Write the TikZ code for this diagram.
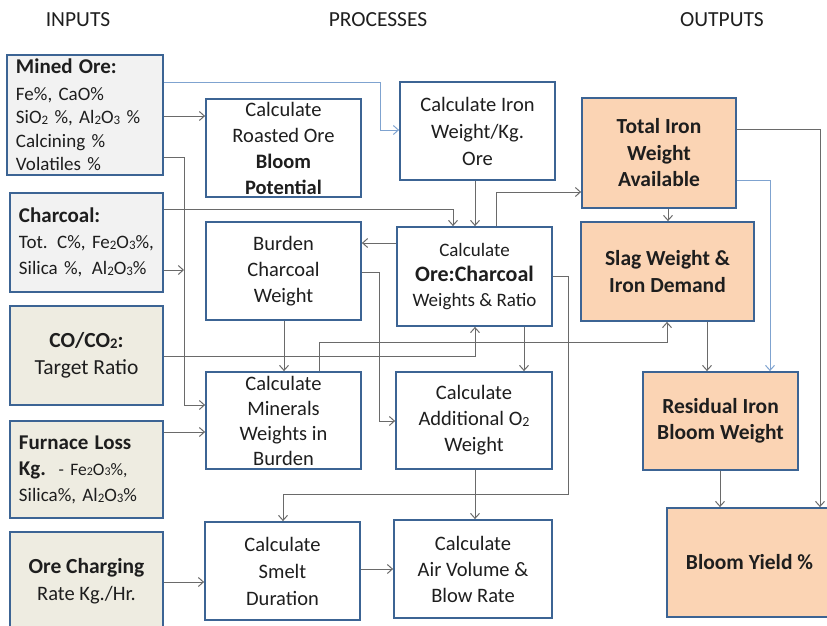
\documentclass[tikz,border=0pt]{standalone}
\usepackage{fontspec}
\setmainfont{Carlito}
\usetikzlibrary{arrows.meta}
\definecolor{bord}{HTML}{3C6494}
\definecolor{grayfill}{HTML}{F2F2F2}
\definecolor{tanfill}{HTML}{EEECE1}
\definecolor{peach}{HTML}{FBD4B4}
\definecolor{wirec}{HTML}{6A6A6A}
\definecolor{bwirec}{HTML}{7FA3D0}
\definecolor{txt}{HTML}{1E1E1E}
\newcommand{\sbs}[1]{\raisebox{-0.1ex}{\scalebox{0.68}{#1}}}
\tikzset{
  sz/.style n args={2}{minimum width=#1, minimum height=#2},
  box/.style={draw=bord, line width=1.8pt, inner sep=0pt, text=txt},
  procbox/.style={box, fill=white, align=center, font=\fontsize{20.5}{26}\selectfont},
  outbox/.style={box, fill=peach, align=center, font=\fontsize{21.5}{26.5}\selectfont\bfseries},
  inbox/.style={box, fill=grayfill, align=left, inner xsep=9pt, font=\fontsize{19}{23.5}\selectfont},
  tanbox/.style={box, fill=tanfill, align=center, font=\fontsize{21.5}{27}\selectfont},
  tanleft/.style={box, fill=tanfill, align=left, inner xsep=9pt, font=\fontsize{19}{26}\selectfont},
  hdr/.style={font=\fontsize{21.5}{24}\selectfont, text=txt, inner sep=0pt},
  wire/.style={draw=wirec, line width=1pt, -{Straight Barb[length=5pt,width=9pt]}},
  bwire/.style={draw=bwirec, line width=1pt, -{Straight Barb[length=5pt,width=9pt]}},
}
\newcommand{\hd}[1]{{\fontsize{21}{24}\selectfont\bfseries #1}}
\begin{document}
\begin{tikzpicture}[x=1pt,y=-1pt]
\useasboundingbox (0,0) rectangle (827,626);
% headers
\node[hdr] (hin) at (78,20) {INPUTS};
\node[hdr] (hproc) at (378,20) {PROCESSES};
\node[hdr] (hout) at (722,20) {OUTPUTS};
% inputs
\node[inbox, sz={156}{120}, text width=138] (ore) at (85,115)
  {\hd{Mined Ore:}\\[3pt] Fe\%, CaO\%\\ SiO\sbs{2} \%, Al\sbs{2}O\sbs{3} \%\\ Calcining \%\\ Volatiles \%};
\node[inbox, sz={153}{99}, text width=135, font=\fontsize{19}{26}\selectfont] (charc) at (86.5,242.5)
  {\hd{Charcoal:}\\ Tot. C\%, Fe\sbs{2}O\sbs{3}\%,\\ Silica \%, \,Al\sbs{2}O\sbs{3}\%};
\node[tanbox, sz={153}{99}] (coco) at (86.5,355.5)
  {\textbf{CO/CO\sbs{2}:}\\ Target Ratio};
\node[tanleft, sz={153}{97}, text width=135] (furn) at (86.5,469.5)
  {\hd{Furnace Loss}\\ \hd{Kg.}\ \ {\fontsize{17.5}{26}\selectfont - Fe\sbs{2}O\sbs{3}\%,}\\ Silica\%, Al\sbs{2}O\sbs{3}\%};
\node[tanbox, sz={153}{99}] (charge) at (86.5,581.5)
  {\textbf{Ore Charging}\\ {\fontsize{20.5}{27}\selectfont Rate Kg./Hr.}};
% processes
\node[procbox, sz={155}{98}] (roast) at (283.5,148)
  {Calculate\\ Roasted Ore\\ \textbf{Bloom}\\ \textbf{Potential}};
\node[procbox, sz={155}{98}, font=\fontsize{20.5}{27}\selectfont] (ironw) at (477.5,131)
  {Calculate Iron\\ Weight/Kg.\\ Ore};
\node[procbox, sz={155}{98}] (burden) at (283.5,271)
  {Burden\\ Charcoal\\ Weight};
\node[procbox, sz={155}{99}, font=\fontsize{19}{25}\selectfont] (orech) at (474.5,276.5)
  {Calculate\\ {\fontsize{22}{25}\selectfont\bfseries Ore:Charcoal}\\ Weights \& Ratio};
\node[procbox, sz={155}{97}, font=\fontsize{20.5}{25}\selectfont] (miner) at (283.5,420.5)
  {Calculate\\ Minerals\\ Weights in\\ Burden};
\node[procbox, sz={156}{97}] (addo) at (474,420.5)
  {Calculate\\ Additional O\sbs{2}\\ Weight};
\node[procbox, sz={155}{98}, font=\fontsize{20.5}{27}\selectfont] (smelt) at (282.5,571)
  {Calculate\\ Smelt\\ Duration};
\node[procbox, sz={158}{98}] (air) at (473,569)
  {Calculate\\ Air Volume \&\\ Blow Rate};
% outputs
\node[outbox, sz={154}{110}] (total) at (659,153)
  {Total Iron\\ Weight\\ Available};
\node[outbox, sz={173}{99}] (slag) at (667.5,271.5)
  {Slag Weight \&\\ Iron Demand};
\node[outbox, sz={155}{98}] (resid) at (720.5,421)
  {Residual Iron\\ Bloom Weight};
\node[outbox, sz={165}{109}] (yield) at (749.5,562.5)
  {Bloom Yield \%};
% connectors
\draw[bwire] (ore.east |- 0,82) -- (380,82) |- (ironw.west |- 0,130);
\draw[wire] (ore.east |- 0,116) -- (roast.west |- 0,116);
\draw[wire] (ore.east |- 0,157) -- (184,157) |- (miner.west |- 0,405);
\draw[wire] (charc.east |- 0,209) -| (453,0 |- orech.north);
\coordinate (join) at (184,270);
\draw[wire] (charc.east |- 0,270) -- (join);
\draw[wire] (475,0 |- ironw.south) -- (475,0 |- orech.north);
\draw[wire] (496,0 |- orech.north) |- (total.west |- 0,192);
\draw[wire] (orech.west |- 0,243) -- (burden.east |- 0,243);
\draw[wire] (284,0 |- burden.south) -- (284,0 |- miner.north);
\draw[wire] (burden.east |- 0,272) -- (379,272) |- (addo.west |- 0,421);
\draw[wire] (319,0 |- miner.north) |- (667,342) -- (667,0 |- slag.south);
\draw[wire] (coco.east |- 0,356) -| (475,0 |- orech.south);
\draw[wire] (524,0 |- orech.south) -- (524,0 |- addo.north);
\draw[wire] (orech.east |- 0,276) -- (568,276) |- (283,494) -- (283,0 |- smelt.north);
\draw[wire] (475,0 |- addo.south) -- (475,0 |- air.north);
\draw[wire] (smelt.east |- 0,569) -- (air.west |- 0,569);
\draw[wire] (charge.east |- 0,582) -- (smelt.west |- 0,582);
\draw[wire] (furn.east |- 0,432) -- (miner.west |- 0,432);
\draw[wire] (668,0 |- total.south) -- (668,0 |- slag.north);
\draw[bwire] (total.east |- 0,180) -| (770,0 |- resid.north);
\draw[wire] (total.east |- 0,129) -| (820,0 |- yield.north);
\draw[wire] (707,0 |- slag.south) -- (707,0 |- resid.north);
\draw[wire] (720,0 |- resid.south) -- (720,0 |- yield.north);
\end{tikzpicture}
\end{document}
